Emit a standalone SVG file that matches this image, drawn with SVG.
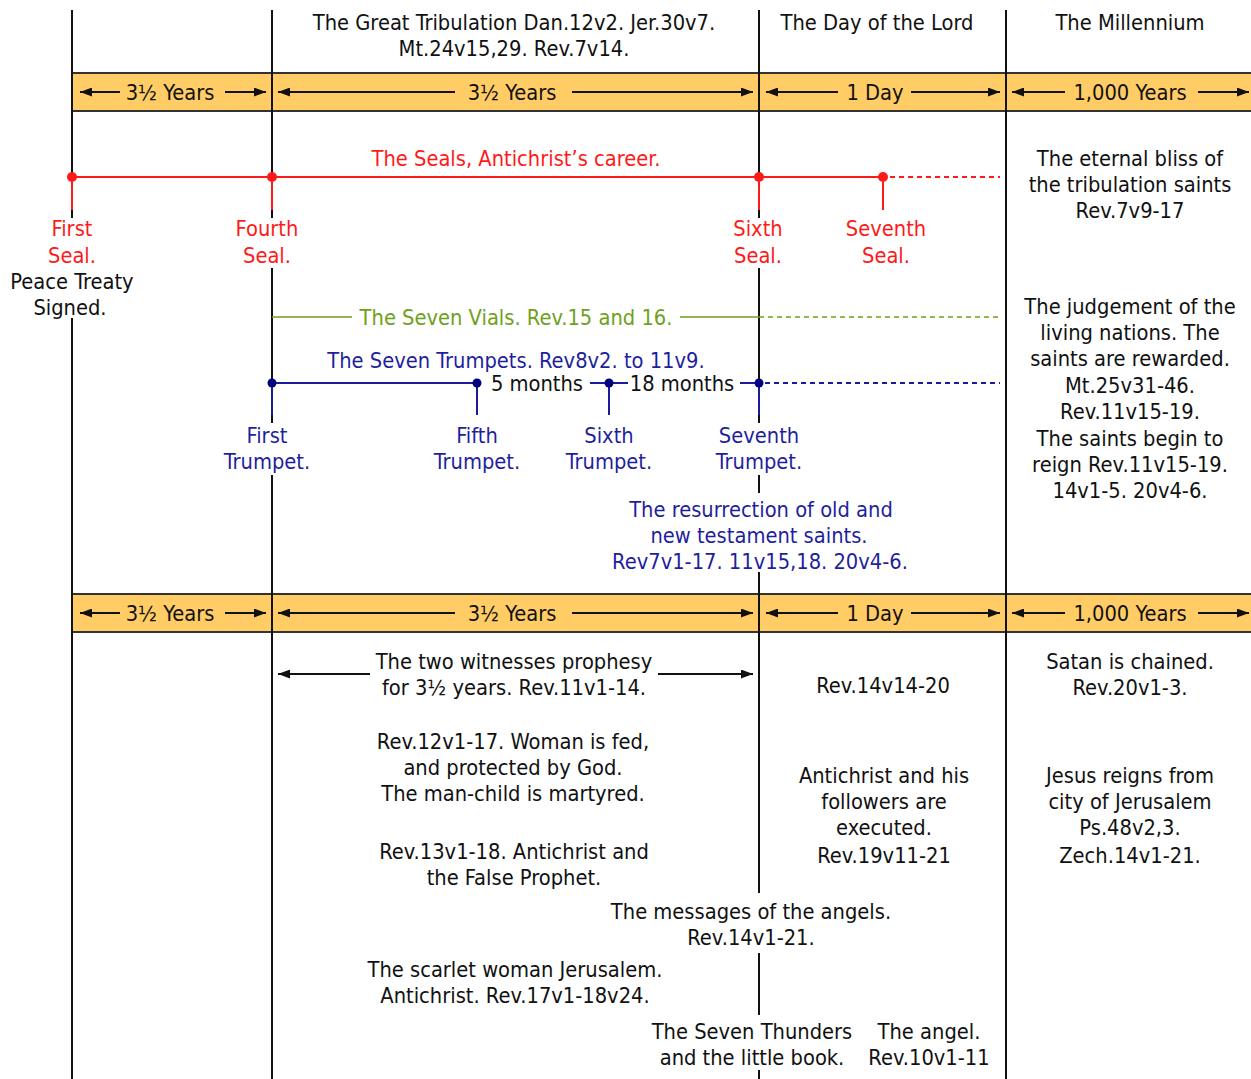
<svg xmlns="http://www.w3.org/2000/svg" width="1251" height="1079" viewBox="0 0 1251 1079">
<style>
text{font-family:"DejaVu Sans Condensed","DejaVu Sans",sans-serif;font-size:21.7px;fill:#111;text-anchor:middle}
.red{fill:#ff1a1a}.blue{fill:#1f1f9e}.green{fill:#6fa01c}
.vl{stroke:#111;stroke-width:2;fill:none}
.band{fill:#ffcc66;stroke:#333;stroke-width:2}
.ar{stroke:#111;stroke-width:1.8;fill:none}
.rl{stroke:#ff1a1a;stroke-width:2;fill:none}
.bl{stroke:#1a1a9a;stroke-width:2;fill:none}
.gl{stroke:#6fa01c;stroke-width:1.5;fill:none}
.dash{stroke-dasharray:5 4}
</style>
<defs>
<marker id="ah" viewBox="0 0 12 9" refX="12" refY="4.5" markerWidth="12" markerHeight="9" markerUnits="userSpaceOnUse" orient="auto"><path d="M0,0L12,4.5L0,9z" fill="#111"/></marker>
</defs>

<g id="bands">
<rect class="band" x="72" y="73" width="1185" height="38"/>
<rect class="band" x="72" y="594" width="1185" height="38"/>
</g>

<g id="connectors">
<path class="vl" d="M72,10V218M72,318V1079"/>
<path class="vl" d="M272,10V218M272,268V423M272,475V1079"/>
<path class="vl" d="M759,10V218M759,268V423M759,475V493M759,572V893M759,953V1015M759,1070V1079"/>
<path class="vl" d="M1006,10V1079"/>
<g class="ar" marker-end="url(#ah)">
<path d="M120,92H80"/><path d="M225,92H266"/><path d="M455,92H278"/><path d="M572,92H753"/>
<path d="M838,92H766"/><path d="M911,92H1000"/><path d="M1065,92H1012"/><path d="M1198,92H1249"/>
<path d="M120,613H80"/><path d="M225,613H266"/><path d="M455,613H278"/><path d="M572,613H753"/>
<path d="M838,613H766"/><path d="M911,613H1000"/><path d="M1065,613H1012"/><path d="M1198,613H1249"/>
<path d="M370,674H278"/><path d="M658,674H753"/>
</g>
<path class="rl" d="M72,177H883M72,177V210M272,177V210M759,177V210M883,177V210"/>
<path class="rl dash" d="M890,177H1000"/>
<g fill="#ff1a1a"><circle cx="72" cy="177" r="5"/><circle cx="272" cy="177" r="5"/><circle cx="759" cy="177" r="5"/><circle cx="883" cy="177" r="5"/></g>
<path class="gl" d="M272,317H352M680,317H759"/>
<path class="gl dash" d="M759,317H1000"/>
<path class="bl" d="M272,383H477M590,383H628M740,383H759M272,383V415M477,383V415M609,383V415M759,383V415"/>
<path class="bl dash" d="M765,383H1000" stroke-width="1.5"/>
<g fill="#000080"><circle cx="272" cy="383" r="4.5"/><circle cx="477" cy="383" r="4.5"/><circle cx="609" cy="383" r="4.5"/><circle cx="759" cy="383" r="4.5"/></g>
</g>

<g id="headers">
<text x="514" y="30">The Great Tribulation Dan.12v2. Jer.30v7.</text>
<text x="514" y="56">Mt.24v15,29. Rev.7v14.</text>
<text x="877" y="30">The Day of the Lord</text>
<text x="1130" y="30">The Millennium</text>
</g>

<g id="band-labels">
<text x="170" y="100">3½ Years</text>
<text x="512" y="100">3½ Years</text>
<text x="875" y="100">1 Day</text>
<text x="1130" y="100">1,000 Years</text>
<text x="170" y="621">3½ Years</text>
<text x="512" y="621">3½ Years</text>
<text x="875" y="621">1 Day</text>
<text x="1130" y="621">1,000 Years</text>
</g>

<g id="seals">
<text class="red" x="516" y="166">The Seals, Antichrist’s career.</text>
<text class="red" x="72" y="236">First</text>
<text class="red" x="72" y="263">Seal.</text>
<text x="72" y="289">Peace Treaty</text>
<text x="70" y="315">Signed.</text>
<text class="red" x="267" y="236">Fourth</text>
<text class="red" x="267" y="263">Seal.</text>
<text class="red" x="758" y="236">Sixth</text>
<text class="red" x="758" y="263">Seal.</text>
<text class="red" x="886" y="236">Seventh</text>
<text class="red" x="886" y="263">Seal.</text>
</g>

<g id="vials">
<text class="green" x="516" y="325">The Seven Vials. Rev.15 and 16.</text>
</g>

<g id="trumpets">
<text class="blue" x="516" y="368">The Seven Trumpets. Rev8v2. to 11v9.</text>
<text x="537" y="391">5 months</text>
<text x="682" y="391">18 months</text>
<text class="blue" x="267" y="443">First</text>
<text class="blue" x="267" y="469">Trumpet.</text>
<text class="blue" x="477" y="443">Fifth</text>
<text class="blue" x="477" y="469">Trumpet.</text>
<text class="blue" x="609" y="443">Sixth</text>
<text class="blue" x="609" y="469">Trumpet.</text>
<text class="blue" x="759" y="443">Seventh</text>
<text class="blue" x="759" y="469">Trumpet.</text>
</g>

<g id="resurrection">
<text class="blue" x="761" y="517">The resurrection of old and</text>
<text class="blue" x="759" y="543">new testament saints.</text>
<text class="blue" x="760" y="569">Rev7v1-17. 11v15,18. 20v4-6.</text>
</g>

<g id="millennium-top">
<text x="1130" y="166">The eternal bliss of</text>
<text x="1130" y="192">the tribulation saints</text>
<text x="1130" y="218">Rev.7v9-17</text>
<text x="1130" y="314">The judgement of the</text>
<text x="1130" y="340">living nations. The</text>
<text x="1130" y="366">saints are rewarded.</text>
<text x="1130" y="393">Mt.25v31-46.</text>
<text x="1130" y="419">Rev.11v15-19.</text>
<text x="1130" y="446">The saints begin to</text>
<text x="1130" y="472">reign Rev.11v15-19.</text>
<text x="1130" y="498">14v1-5. 20v4-6.</text>
</g>

<g id="witnesses">
<text x="514" y="669">The two witnesses prophesy</text>
<text x="514" y="695">for 3½ years. Rev.11v1-14.</text>
</g>
<g id="rev14">
<text x="883" y="693">Rev.14v14-20</text>
</g>
<g id="satan">
<text x="1130" y="669">Satan is chained.</text>
<text x="1130" y="695">Rev.20v1-3.</text>
</g>
<g id="woman">
<text x="513" y="749">Rev.12v1-17. Woman is fed,</text>
<text x="513" y="775">and protected by God.</text>
<text x="513" y="801">The man-child is martyred.</text>
</g>
<g id="antichrist-executed">
<text x="884" y="783">Antichrist and his</text>
<text x="884" y="809">followers are</text>
<text x="884" y="835">executed.</text>
<text x="884" y="863">Rev.19v11-21</text>
</g>
<g id="jesus">
<text x="1130" y="783">Jesus reigns from</text>
<text x="1130" y="809">city of Jerusalem</text>
<text x="1130" y="835">Ps.48v2,3.</text>
<text x="1130" y="863">Zech.14v1-21.</text>
</g>
<g id="beast">
<text x="514" y="859">Rev.13v1-18. Antichrist and</text>
<text x="514" y="885">the False Prophet.</text>
</g>
<g id="angels">
<text x="751" y="919">The messages of the angels.</text>
<text x="751" y="945">Rev.14v1-21.</text>
</g>
<g id="scarlet">
<text x="515" y="977">The scarlet woman Jerusalem.</text>
<text x="515" y="1003">Antichrist. Rev.17v1-18v24.</text>
</g>
<g id="thunders">
<text x="752" y="1039">The Seven Thunders</text>
<text x="752" y="1065">and the little book.</text>
</g>
<g id="angel">
<text x="929" y="1039">The angel.</text>
<text x="929" y="1065">Rev.10v1-11</text>
</g>
</svg>
